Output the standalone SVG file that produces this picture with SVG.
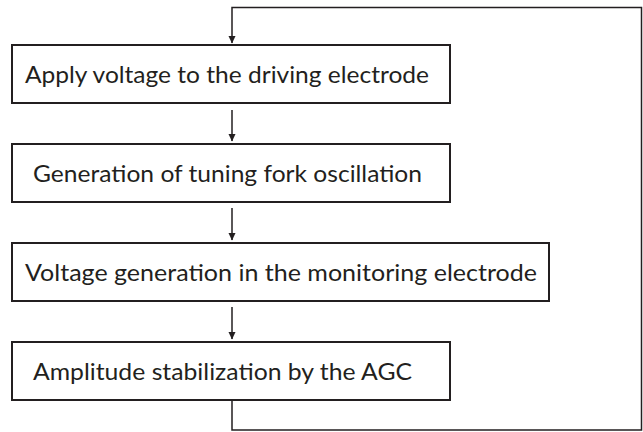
<svg xmlns="http://www.w3.org/2000/svg" width="643" height="432" viewBox="0 0 643 432">
<style>
.box{fill:#fff;stroke:#231f20;stroke-width:2}
.lbl{font-family:Lato,"Liberation Sans",sans-serif;font-size:23.5px;fill:#231f20}
.con{fill:none;stroke:#231f20;stroke-width:1.5}
</style>
<defs>
<marker id="ah" markerWidth="8" markerHeight="8" refX="7" refY="4" orient="auto" markerUnits="userSpaceOnUse">
<path d="M0,0.5 L7.5,4 L0,7.5 Z" fill="#231f20"/>
</marker>
</defs>
<rect width="643" height="432" fill="#fff"/>
<g id="connectors">
<path class="con" d="M232,110 V141" marker-end="url(#ah)"/>
<path class="con" d="M232,208 V240" marker-end="url(#ah)"/>
<path class="con" d="M232,307 V339" marker-end="url(#ah)"/>
<path class="con" d="M232,400 V430 H641.5 V7.5 H232 V43" marker-end="url(#ah)"/>
</g>
<g id="node1">
<rect class="box" x="12" y="45" width="438" height="58"/>
<text class="lbl" x="25" y="83" textLength="404" lengthAdjust="spacingAndGlyphs">Apply voltage to the driving electrode</text>
</g>
<g id="node2">
<rect class="box" x="12" y="144" width="438" height="58"/>
<text class="lbl" x="33" y="182" textLength="389" lengthAdjust="spacingAndGlyphs">Generation of tuning fork oscillation</text>
</g>
<g id="node3">
<rect class="box" x="12" y="243" width="537" height="58"/>
<text class="lbl" x="25" y="281" textLength="512" lengthAdjust="spacingAndGlyphs">Voltage generation in the monitoring electrode</text>
</g>
<g id="node4">
<rect class="box" x="12" y="342" width="438" height="58"/>
<text class="lbl" x="33" y="380" textLength="379" lengthAdjust="spacingAndGlyphs">Amplitude stabilization by the AGC</text>
</g>
</svg>
